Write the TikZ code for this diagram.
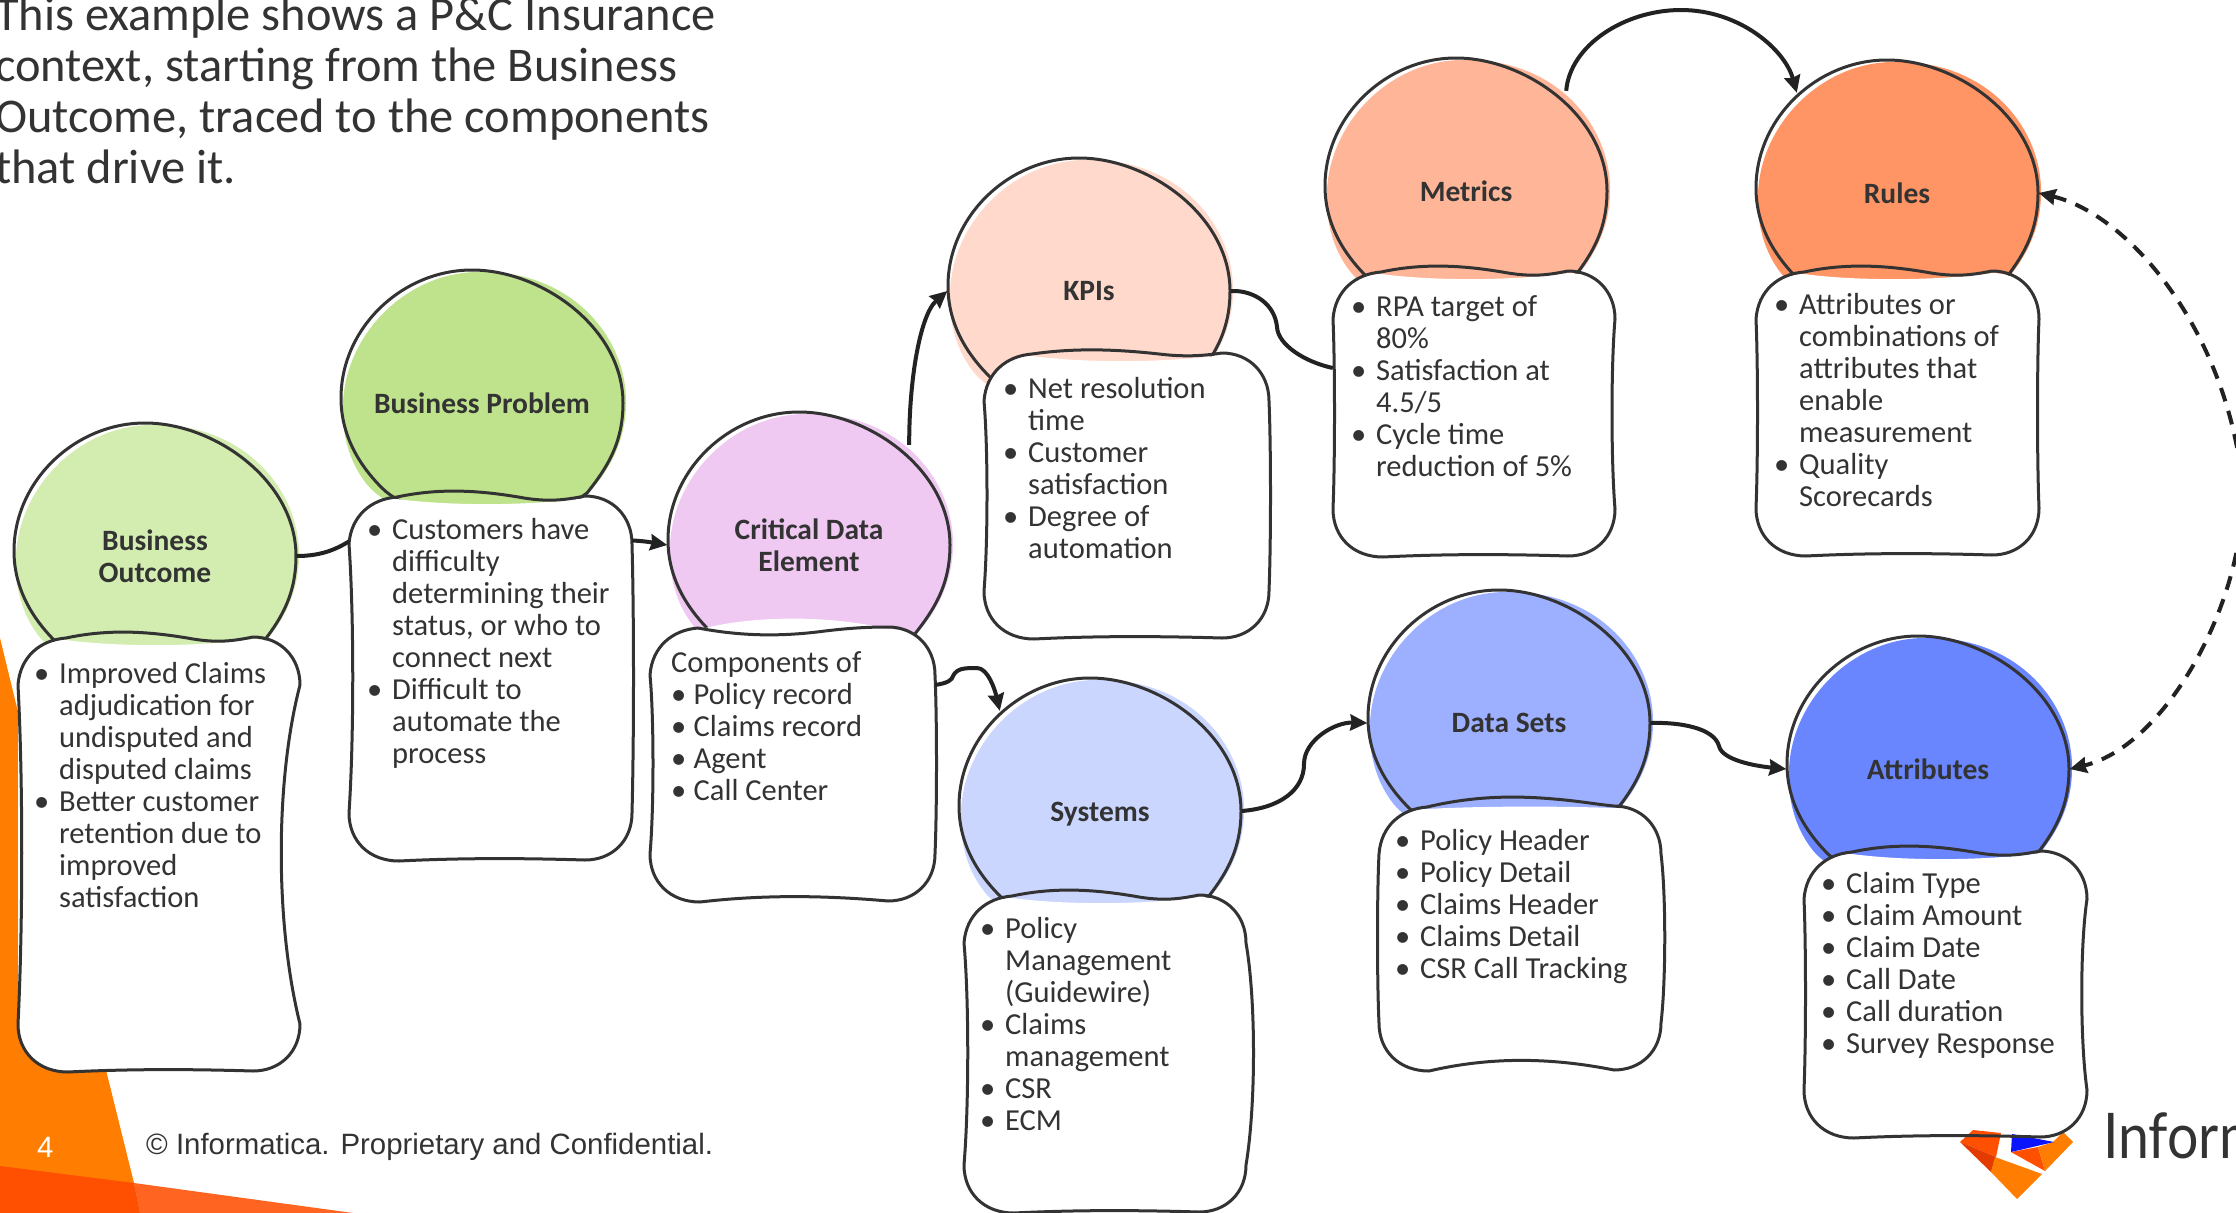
\documentclass[tikz,border=0pt]{standalone}
\usepackage{graphicx}
\usepackage{fontspec}
\setmainfont{Carlito}
\newfontfamily\footfont{Liberation Sans}
\newfontfamily\logofont{Lato}
\usetikzlibrary{arrows.meta}
\definecolor{ink}{HTML}{333333}
\definecolor{wire}{HTML}{222222}
\definecolor{orA}{HTML}{FF7D00}
\definecolor{orB}{HTML}{FF4F00}
\definecolor{orC}{HTML}{FF6421}
\definecolor{orD}{HTML}{E33A00}
\definecolor{blueL}{HTML}{0A14FF}
\definecolor{cBO}{HTML}{D3EDB0}
\definecolor{cBP}{HTML}{BFE38C}
\definecolor{cCD}{HTML}{EFC9F2}
\definecolor{cKP}{HTML}{FFD9CB}
\definecolor{cME}{HTML}{FFB698}
\definecolor{cRU}{HTML}{FF9464}
\definecolor{cSY}{HTML}{CBD6FF}
\definecolor{cDS}{HTML}{9DB0FF}
\definecolor{cAT}{HTML}{6A86FF}
\tikzset{
  outline/.style={draw=ink,line width=3pt,line join=round},
  blobport/.style={circle,minimum size=283pt,inner sep=0pt,text=ink,align=center,
    font=\fontsize{29.5}{32}\selectfont\bfseries},
  boxport/.style={rectangle,inner sep=0pt},
  bodytext/.style={anchor=north west,inner sep=0pt,align=left,text=ink,
    font=\fontsize{30.5}{32}\selectfont},
  link/.style={draw=wire,line width=4pt},
  tip/.style={-{Stealth[length=17pt,width=16pt,inset=1.5pt]}},
  tips/.style={{Stealth[length=17pt,width=16pt,inset=1.5pt]}-{Stealth[length=17pt,width=16pt,inset=1.5pt]}},
  headtext/.style={anchor=north west,inner sep=0pt,align=left,text=ink,
    font=\fontsize{48.4}{51}\selectfont},
  foot/.style={anchor=west,inner sep=0pt,font=\fontsize{29.4}{32}\selectfont\footfont},
}
\newcommand{\skblob}[5]{%
  \begin{scope}[shift={(#2,#3)}]
    \fill[#4] (-139,0) .. controls (-136,-70) and (-75,-130) .. (-5,-131)
      .. controls (90,-134) and (145,-65) .. (144,0)
      .. controls (144,40) and (125,70) .. (105,92)
      .. controls (50,130) and (-60,135) .. (-112,85)
      .. controls (-130,65) and (-141,35) .. (-139,0) -- cycle;
    \draw[outline] (-141,-5) .. controls (-141,-75) and (-80,-133) .. (-10,-133)
      .. controls (60,-133) and (141,-75) .. (141,0)
      .. controls (141,40) and (125,65) .. (105,90)
      .. controls (60,125) and (-60,125) .. (-100,85)
      .. controls (-125,60) and (-141,30) .. (-141,-5) -- cycle;
    \node[blobport] (#1) at (0,0) {#5};
  \end{scope}}
% top wave controls a b c d e, white-fill mid height, bottom wave
\newcommand{\skwave}[7]{\def\skTa{#1}\def\skTb{#2}\def\skTc{#3}\def\skTd{#4}\def\skTe{#5}\def\skTf{#6}\def\skTg{#7}}
\newcommand{\skwavedefault}{\skwave{-8}{-6}{2}{6}{4}{10}{-3}}
% name, x, y, W, H
\newcommand{\skboxfill}[5]{%
  \begin{scope}[shift={(#2,#3)}]
    \fill[white] (0,48) .. controls (2,20) and (22,3) .. (48,3)
      .. controls (100,\skTf) and (180,\skTf) .. ({#4-47},2)
      .. controls ({#4-20},2) and (#4,20) .. (#4,48)
      -- (#4,{#5-48}) .. controls (#4,{#5-20}) and ({#4-20},{#5-1}) .. ({#4-47},{#5-1})
      -- (50,#5) .. controls (20,#5) and (0,{#5-20}) .. (0,{#5-48}) -- cycle;
  \end{scope}
  \node[boxport,minimum width=#4 pt,minimum height=#5 pt] (#1) at ({#2+#4/2},{#3+#5/2}) {};}
% x, y, W, H, left bow, right bow
\newcommand{\skboxline}[6]{%
  \begin{scope}[shift={(#1,#2)}]
    \draw[outline] (0,48) .. controls (2,20) and (22,3) .. (48,1)
      .. controls (90,\skTa) and (130,\skTb) .. (175,\skTc)
      .. controls (200,\skTd) and ({#3-67},\skTe) .. ({#3-47},0)
      .. controls ({#3-20},0) and (#3,20) .. (#3,48)
      .. controls ({#3-#6},{#4*.33}) and ({#3-#6},{#4*.66}) .. (#3,{#4-48})
      .. controls (#3,{#4-20}) and ({#3-20},{#4-1}) .. ({#3-47},{#4-1})
      .. controls (170,{#4+\skTg}) and (110,{#4+\skTg}) .. (50,#4)
      .. controls (20,#4) and (0,{#4-20}) .. (0,{#4-48})
      .. controls (#5,{#4*.66}) and (#5,{#4*.33}) .. (0,48) -- cycle;
  \end{scope}}
\newcommand{\skbox}[7]{\skboxfill{#1}{#2}{#3}{#4}{#5}\skboxline{#2}{#3}{#4}{#5}{#6}{#7}}
\newcommand{\skfirst}{\rule{0pt}{22pt}}
\newcommand{\skb}{\makebox[25pt][l]{•}}
\newcommand{\skB}{\makebox[22.5pt][l]{•}}
\newcommand{\skc}{\hspace*{25pt}}
\begin{document}
\begin{tikzpicture}[x=1pt,y=-1pt]
\useasboundingbox (0,0) rectangle (2236,1213);
\clip (0,0) rectangle (2236,1213);
\fill[white] (0,0) rectangle (2236,1213);
% slide decoration
\fill[orA] (0,638) -- (19,716) -- (25,900) -- (60,1050) -- (105,1066) -- (134,1183) -- (140,1213) -- (0,1213) -- cycle;
\fill[orC] (134,1183) -- (353,1213) -- (140,1213) -- cycle;
\fill[orB] (0,1166) -- (134,1183) -- (140,1213) -- (0,1213) -- cycle;
\node[foot,text=white] (pagenum) at (37,1147) {4};
\node[foot,text=ink] (legal) at (146,1147) {© Informatica. Proprietary and Confidential.};
% heading
\node[headtext] (head) at (-5,-3) {This example shows a P\&C Insurance\\context, starting from the Business\\Outcome, traced to the components\\that drive it.};
% blobs
\skblob{bo}{155}{556}{cBO}{Business\\Outcome}
\skblob{bp}{482}{403}{cBP}{Business Problem}
\skblob{cd}{809}{545}{cCD}{Critical Data\\Element}
\skblob{kp}{1089}{291}{cKP}{KPIs}
\skblob{me}{1466}{191}{cME}{Metrics}
\skblob{ru}{1897}{193}{cRU}{Rules}
\skblob{sy}{1100}{811}{cSY}{\raisebox{0pt}[20pt][0pt]{Systems}}
\skblob{ds}{1509}{723}{cDS}{Data Sets}
\skblob{at}{1928}{769}{cAT}{Attributes}
% boxes
\skwavedefault
\skbox{bobox}{18}{637}{282}{435}{5}{25}
\skbox{bpbox}{349}{496}{283}{365}{5}{-2}
\skwave{9}{10}{4}{1}{0}{-12}{-7}
\skbox{cdbox}{650}{627}{285}{275}{4}{-2}
\skwave{-5}{-4}{1}{4}{3}{10}{-3}
\skbox{kpbox}{984}{353}{285}{286}{4}{-2}
\skwavedefault
\skbox{mebox}{1333}{271}{282}{286}{2}{4}
\skbox{rubox}{1756}{271}{283}{285}{2}{2}
\skbox{sybox}{964}{895}{282}{318}{5}{-10}
\skwave{-9}{-11}{-7}{-5}{-2}{0}{-14}
\skbox{dsbox}{1379}{806}{282}{265}{-2}{-5}
\skwavedefault
\skboxfill{atbox}{1804}{851}{283}{287}
% logo
\fill[orB] (1960,1142) -- (1973,1130) -- (2001,1133) -- (1996,1157) -- cycle;
\fill[orD] (1960,1142) -- (1996,1157) -- (1991,1172) -- cycle;
\fill[orA] (1995,1157) -- (2042,1174) -- (2017,1199) -- (1991,1172) -- cycle;
\fill[orB] (2011,1152) -- (2038,1147) -- (2045,1171) -- cycle;
\fill[orA] (2038,1147) -- (2053,1142) -- (2063,1132) -- (2073,1142) -- (2045,1171) -- cycle;
\fill[blueL] (2012,1134) -- (2054,1142) -- (2011,1152) -- cycle;
\node[anchor=base west,inner sep=0pt,text=ink,font=\fontsize{63}{70}\selectfont\logofont] (logotext) at (2103,1158) {\scalebox{0.88}[1]{Informatica}};
\skboxline{1804}{851}{283}{287}{2}{7}
% box texts
\node[bodytext] (botext) at (34,661) {\skfirst\skb Improved Claims\\\skc adjudication for\\\skc undisputed and\\\skc disputed claims\\\skb Better customer\\\skc retention due to\\\skc improved\\\skc satisfaction};
\node[bodytext] (bptext) at (367,517) {\skfirst\skb Customers have\\\skc difficulty\\\skc determining their\\\skc status, or who to\\\skc connect next\\\skb Difficult to\\\skc automate the\\\skc process};
\node[bodytext] (cdtext) at (671,650) {\skfirst Components of\\\skB Policy record\\\skB Claims record\\\skB Agent\\\skB Call Center};
\node[bodytext] (kptext) at (1003,376) {\skfirst\skb Net resolution\\\skc time\\\skb Customer\\\skc satisfaction\\\skb Degree of\\\skc automation};
\node[bodytext] (metext) at (1351,294) {\skfirst\skb RPA target of\\\skc 80\%\\\skb Satisfaction at\\\skc 4.5/5\\\skb Cycle time\\\skc reduction of 5\%};
\node[bodytext] (rutext) at (1774,292) {\skfirst\skb Attributes or\\\skc combinations of\\\skc attributes that\\\skc enable\\\skc measurement\\\skb Quality\\\skc Scorecards};
\node[bodytext] (sytext) at (980,916) {\skfirst\skb Policy\\\skc Management\\\skc (Guidewire)\\\skb Claims\\\skc management\\\skb CSR\\\skb ECM};
\node[bodytext] (dstext) at (1395,828) {\skfirst\skb Policy Header\\\skb Policy Detail\\\skb Claims Header\\\skb Claims Detail\\\skb CSR Call Tracking};
\node[bodytext] (attext) at (1821,871) {\skfirst\skb Claim Type\\\skb Claim Amount\\\skb Claim Date\\\skb Call Date\\\skb Call duration\\\skb Survey Response};
% connectors
\draw[link] (bo.east) .. controls (320,556) and (335,550) .. ([yshift=137pt]bpbox.west);
\draw[link,tip] ([yshift=138pt]bpbox.east) .. controls (645,541) and (655,543) .. (cd.west);
\draw[link,tip] (cd.45) .. controls (909,380) and (920,315) .. (kp.west);
\draw[link] (kp.east) .. controls (1255,290) and (1275,305) .. (1277,327) .. controls (1278,345) and (1305,362) .. ([yshift=46pt]mebox.west);
\draw[link,tip] (me.45) .. controls (1570,45) and (1625,10) .. (1681,10) .. controls (1740,10) and (1785,50) .. (ru.135);
\draw[link,tip] ([yshift=79.5pt]cdbox.east) .. controls (948,683) and (952,680) .. (953,676) .. controls (957,668) and (965,668) .. (977,668) .. controls (988,668) and (995,690) .. (sy.135);
\draw[link,tip] (sy.east) .. controls (1280,808) and (1304,790) .. (1304,764) .. controls (1304,740) and (1335,722) .. (ds.west);
\draw[link,tip] (ds.east) .. controls (1680,722) and (1714,728) .. (1719,746) .. controls (1722,760) and (1755,766) .. (at.west);
\draw[link,tips,dash pattern=on 14pt off 10pt] (ru.east) .. controls (2130,215) and (2225,330) .. (2242,480) .. controls (2250,590) and (2170,745) .. (at.east);
\end{tikzpicture}
\end{document}
